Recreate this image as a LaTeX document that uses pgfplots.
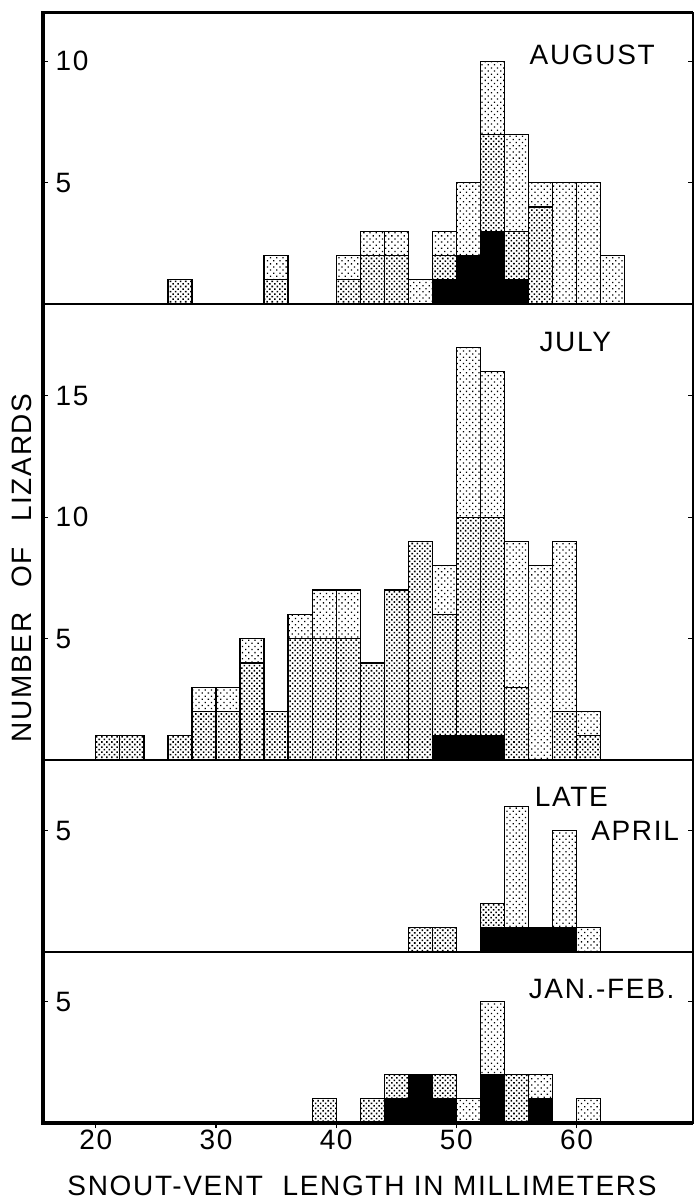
\documentclass[border=0pt]{standalone}
\usepackage{fontspec}
\setmainfont{Liberation Sans}[LetterSpace=6]
\usepackage{pgfplots}
\usepackage{pgfplotstable}
\pgfplotsset{compat=1.18}
\usetikzlibrary{patterns.meta,calc}

% lizards per 2 mm size class: black / dense stipple / light stipple
\pgfplotstableread{
x  blk dns lgt
27 0 1 0
35 0 1 1
41 0 1 1
43 0 2 1
45 0 2 1
47 0 0 1
49 1 1 1
51 2 0 3
53 3 4 3
55 1 2 4
57 0 4 1
59 0 0 5
61 0 0 5
63 0 0 2
}\aug

\pgfplotstableread{
x  blk dns lgt
21 0 1 0
23 0 1 0
27 0 1 0
29 0 2 1
31 0 2 1
33 0 4 1
35 0 2 0
37 0 5 1
39 0 5 2
41 0 5 2
43 0 4 0
45 0 7 0
47 0 9 0
49 1 5 2
51 1 9 7
53 1 9 6
55 0 3 6
57 0 0 8
59 0 2 7
61 0 1 1
}\jul

\pgfplotstableread{
x  blk dns lgt
47 0 1 0
49 0 1 0
53 1 1 0
55 1 0 5
57 1 0 0
59 1 0 4
61 0 0 1
}\apr

\pgfplotstableread{
x  blk dns lgt
39 0 1 0
43 0 1 0
45 1 1 0
47 2 0 0
49 1 1 0
51 0 0 1
53 2 0 3
55 0 2 0
57 1 0 1
61 0 0 1
}\jan

\pgfplotsset{
  panel/.style={
    x=6.01pt, y=12.15pt,
    xmin=15.6, xmax=69.7, ymin=0,
    enlargelimits=false,
    ybar stacked, bar width=2,
    axis line style={line width=0.8pt},
    xtick=\empty,
    ytick pos=both, yticklabel pos=left,
    tick align=inside, major tick length=2.5pt,
    tick style={black, line width=0.6pt},
    tick label style={font=\fontsize{14}{16}\selectfont},
    label style={font=\fontsize{14}{16}\selectfont},
    yticklabel style={anchor=west, xshift=2.8pt},
    /pgf/number format/assume math mode=true,
  },
  sblk/.style={draw=black, line width=0.6pt, fill=black},
  sdns/.style={draw=black, line width=0.6pt, pattern={Dots[radius=0.55pt, distance=1.8pt, angle=45]}},
  slgt/.style={draw=black, line width=0.6pt, pattern={Dots[radius=0.45pt, distance=2.2pt, angle=45]}},
}

\begin{document}
\begin{tikzpicture}[font=\fontsize{14}{16}\selectfont]

\begin{axis}[panel, name=aug, ymax=12, ytick={5,10}]
  \addplot[sblk] table[x=x, y=blk] {\aug};
  \addplot[sdns] table[x=x, y=dns] {\aug};
  \addplot[slgt] table[x=x, y=lgt] {\aug};
  \node[anchor=east, inner sep=0pt] at (66.55,10.25) {AUGUST};
\end{axis}

\begin{axis}[panel, name=jul, at={(aug.south west)}, anchor=north west,
  ymax=18.77, ytick={5,10,15}]
  \addplot[sblk] table[x=x, y=blk] {\jul};
  \addplot[sdns] table[x=x, y=dns] {\jul};
  \addplot[slgt] table[x=x, y=lgt] {\jul};
  \node[inner sep=0pt] at (59.9,17.2) {JULY};
\end{axis}

\begin{axis}[panel, name=apr, at={(jul.south west)}, anchor=north west,
  ymax=7.9, ytick={5}]
  \addplot[sblk] table[x=x, y=blk] {\apr};
  \addplot[sdns] table[x=x, y=dns] {\apr};
  \addplot[slgt] table[x=x, y=lgt] {\apr};
  \node[anchor=west, inner sep=0pt] at (56.5,6.4) {LATE};
  \node[anchor=west, inner sep=0pt] at (61.2,5.0) {APRIL};
\end{axis}

\begin{axis}[panel, name=jan, at={(apr.south west)}, anchor=north west,
  ymax=7.04, ytick={5},
  xtick={20,30,40,50,60}, xtick pos=left,
  xtick style={yshift=-2.5pt},
  xlabel={SNOUT-VENT\hspace{0.7em}LENGTH IN MILLIMETERS},
  xlabel style={xshift=-3pt, yshift=-6pt}]
  \addplot[sblk] table[x=x, y=blk] {\jan};
  \addplot[sdns] table[x=x, y=dns] {\jan};
  \addplot[slgt] table[x=x, y=lgt] {\jan};
  \node[anchor=west, inner sep=0pt] at (56.0,5.5) {JAN.-FEB.};
\end{axis}

% heavy frame on the left, top and bottom
\draw[line width=1.8pt] (aug.north east) -- (aug.north west) -- (jan.south west) -- (jan.south east);

\node[rotate=90] at ($(aug.north west)!0.5!(jan.south west)+(-10.5pt,0)$)
  {NUMBER\hspace{0.9em}OF\hspace{0.9em}LIZARDS};

\pgfresetboundingbox
\path[use as bounding box] ($(aug.north west)+(-21.5pt,6.35pt)$) rectangle ($(jan.south west)+(326.1pt,-38.5pt)$);
\end{tikzpicture}
\end{document}
